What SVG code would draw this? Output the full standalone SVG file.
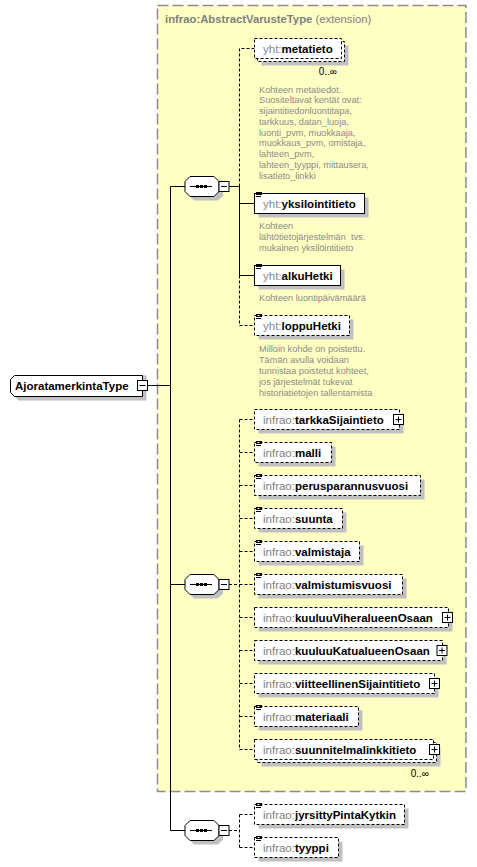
<svg xmlns="http://www.w3.org/2000/svg" xmlns:xlink="http://www.w3.org/1999/xlink" width="477" height="867" viewBox="0 0 477 867">
<style>
.bg{fill:#ffffc4;stroke:#8c8c8c;stroke-width:1.5;stroke-dasharray:11,4}
.box{fill:#fff;stroke:#000;stroke-width:1}
.opt{stroke-dasharray:3,2}
.sh{fill:#c0c0c0}
.ln{stroke:#000;stroke-width:1;fill:none}
.dl{stroke-dasharray:3,2}
.nm{font-family:"Liberation Sans",Arial,sans-serif;font-size:11.5px;font-weight:bold;fill:#000}
.px{font-weight:normal;fill:#808080}
.ypx{font-weight:normal;fill:#7f8a9c}
.ds{font-family:"Liberation Sans",Arial,sans-serif;font-size:9.2px;fill:#8a8a8a}
.oc{font-family:"Liberation Sans","DejaVu Sans",sans-serif;font-size:10px;fill:#000}
.tt{font-family:"Liberation Sans",Arial,sans-serif;font-size:11.3px;fill:#808080}
</style>
<defs>
<g id="ic"><path d="M0,0.5h6M0,2.5h6M0,4.5h5" stroke="#000" stroke-width="1" fill="none"/></g>
<g id="plus"><rect x="-5" y="-5" width="10" height="10" fill="#fff" stroke="#000"/><path d="M-3,0h6M0,-3v6" stroke="#000"/></g>
<g id="minus"><rect x="-5" y="-5" width="10" height="10" fill="#fff" stroke="#000"/><path d="M-3,0h6" stroke="#000"/></g>
<g id="seq">
<path d="M4,-6 L9,-11 H33 L38,-6 V4 L33,9 H9 L4,4 Z" fill="#c0c0c0" transform="translate(0,5)"/>
<path d="M0,-5 L5,-10 H29 L34,-5 V5 L29,10 H5 L0,5 Z" fill="#fff" stroke="#000"/>
<path d="M5,0 H27" stroke="#000"/>
<rect x="11" y="-1.5" width="3" height="3" fill="#000"/>
<rect x="15" y="-1.5" width="3" height="3" fill="#000"/>
<rect x="19" y="-1.5" width="3" height="3" fill="#000"/>
<use href="#minus" x="39" y="0"/>
</g>
</defs>

<rect class="bg" x="157.5" y="5.5" width="308.5" height="786"/>
<text class="tt" x="165" y="23"><tspan font-weight="bold">infrao:AbstractVarusteType</tspan> (extension)</text>

<g id="connectors">
<path class="ln" d="M147.5,385.5 H170.5 M170.5,186.5 V830.5 M170.5,186.5 H185 M170.5,584.5 H185 M170.5,830.5 H185"/>
<path class="ln" d="M229,186.5 H239.5 M239.5,186.5 V275.5 M239.5,203.5 H254.5 M239.5,275.5 H254.5"/>
<path class="ln dl" d="M239.5,186.5 V48.5 H254.5 M239.5,275.5 V325.5 H254.5"/>
<path class="ln dl" d="M229,584.5 H239.5 M239.5,419.5 V749.5 M239.5,419.5 H254.5 M239.5,452.5 H254.5 M239.5,485.5 H254.5 M239.5,518.5 H254.5 M239.5,551.5 H254.5 M239.5,584.5 H254.5 M239.5,617.5 H254.5 M239.5,650.5 H254.5 M239.5,683.5 H254.5 M239.5,716.5 H254.5 M239.5,749.5 H254.5"/>
<path class="ln dl" d="M229,830.5 H239.5 M239.5,814.5 V847.5 M239.5,814.5 H254.5 M239.5,847.5 H254.5"/>
</g>

<g id="root">
<path d="M14.5,379.5 L18.5,375.5 H146.5 V400.5 H18.5 L14.5,396.5 Z" class="sh"/>
<path d="M10.5,379.5 L14.5,375.5 H142.5 V396.5 H14.5 L10.5,392.5 Z" class="box"/>
<text class="nm" x="15" y="390">AjoratamerkintaType</text>
<use href="#minus" x="142.5" y="385.5"/>
</g>

<g id="seq1"><use href="#seq" x="185" y="186.5"/></g>
<g id="seq2"><use href="#seq" x="185" y="584.5"/></g>
<g id="seq3"><use href="#seq" x="185" y="830.5"/></g>

<g id="e-metatieto">
<rect class="sh" x="261.5" y="45.5" width="87" height="20"/>
<rect class="box opt" x="257.5" y="41.5" width="87" height="20"/>
<rect class="box opt" x="254.5" y="38.5" width="87" height="20"/>
<text class="nm" x="263" y="52.5"><tspan class="ypx">yht:</tspan>metatieto</text>
<text class="oc" x="337" y="75" text-anchor="end">0..∞</text>
<text class="ds" x="259" y="92.5">Kohteen metatiedot.</text>
<text class="ds" x="259" y="103.3">Suositeltavat kentät ovat:</text>
<text class="ds" x="259" y="114">sijaintitiedonluontitapa,</text>
<text class="ds" x="259" y="124.8">tarkkuus, datan_luoja,</text>
<text class="ds" x="259" y="135.6">luonti_pvm, muokkaaja,</text>
<text class="ds" x="259" y="146.4">muokkaus_pvm, omistaja,</text>
<text class="ds" x="259" y="157.2">lahteen_pvm,</text>
<text class="ds" x="259" y="168">lahteen_tyyppi, mittausera,</text>
<text class="ds" x="259" y="178.7">lisatieto_linkki</text>
</g>

<g id="e-yksilointitieto">
<rect class="sh" x="258.5" y="197.5" width="110" height="20"/>
<rect class="box" x="254.5" y="193.5" width="110" height="20"/>
<use href="#ic" x="256" y="192"/>
<text class="nm" x="263" y="207.5"><tspan class="ypx">yht:</tspan>yksilointitieto</text>
<text class="ds" x="259" y="229.3">Kohteen</text>
<text class="ds" x="259" y="240" xml:space="preserve">lähtötietojärjestelmän  tvs.</text>
<text class="ds" x="259" y="250.6">mukainen yksilöintitieto</text>
</g>

<g id="e-alkuHetki">
<rect class="sh" x="258.5" y="269.5" width="86" height="20"/>
<rect class="box" x="254.5" y="265.5" width="86" height="20"/>
<use href="#ic" x="256" y="264"/>
<text class="nm" x="263" y="279.5"><tspan class="ypx">yht:</tspan>alkuHetki</text>
<text class="ds" x="259" y="300.6">Kohteen luontipäivämäärä</text>
</g>

<g id="e-loppuHetki">
<rect class="sh" x="258.5" y="319.5" width="95" height="20"/>
<rect class="box opt" x="254.5" y="315.5" width="95" height="20"/>
<use href="#ic" x="256" y="314"/>
<text class="nm" x="263" y="329.5"><tspan class="ypx">yht:</tspan>loppuHetki</text>
<text class="ds" x="259" y="351.6">Milloin kohde on poistettu.</text>
<text class="ds" x="259" y="362.6">Tämän avulla voidaan</text>
<text class="ds" x="259" y="373.6">tunnistaa poistetut kohteet,</text>
<text class="ds" x="259" y="384.6">jos järjestelmät tukevat</text>
<text class="ds" x="259" y="395.6">historiatietojen tallentamista</text>
</g>

<g id="e-tarkkaSijaintieto">
<rect class="sh" x="258.5" y="413.5" width="145" height="20"/>
<rect class="box opt" x="254.5" y="409.5" width="145" height="20"/>
<text class="nm" x="263" y="423.5"><tspan class="px">infrao:</tspan>tarkkaSijaintieto</text>
<use href="#plus" x="398.5" y="419.5"/>
</g>

<g id="e-malli">
<rect class="sh" x="258.5" y="446.5" width="77" height="20"/>
<rect class="box opt" x="254.5" y="442.5" width="77" height="20"/>
<use href="#ic" x="256" y="441"/>
<text class="nm" x="263" y="456.5"><tspan class="px">infrao:</tspan>malli</text>
</g>

<g id="e-perusparannusvuosi">
<rect class="sh" x="258.5" y="479.5" width="166" height="20"/>
<rect class="box opt" x="254.5" y="475.5" width="166" height="20"/>
<use href="#ic" x="256" y="474"/>
<text class="nm" x="263" y="489.5"><tspan class="px">infrao:</tspan>perusparannusvuosi</text>
</g>

<g id="e-suunta">
<rect class="sh" x="258.5" y="512.5" width="88" height="20"/>
<rect class="box opt" x="254.5" y="508.5" width="88" height="20"/>
<use href="#ic" x="256" y="507"/>
<text class="nm" x="263" y="522.5"><tspan class="px">infrao:</tspan>suunta</text>
</g>

<g id="e-valmistaja">
<rect class="sh" x="258.5" y="545.5" width="105" height="20"/>
<rect class="box opt" x="254.5" y="541.5" width="105" height="20"/>
<use href="#ic" x="256" y="540"/>
<text class="nm" x="263" y="555.5"><tspan class="px">infrao:</tspan>valmistaja</text>
</g>

<g id="e-valmistumisvuosi">
<rect class="sh" x="258.5" y="578.5" width="148" height="20"/>
<rect class="box opt" x="254.5" y="574.5" width="148" height="20"/>
<use href="#ic" x="256" y="573"/>
<text class="nm" x="263" y="588.5"><tspan class="px">infrao:</tspan>valmistumisvuosi</text>
</g>

<g id="e-kuuluuViheralueenOsaan">
<rect class="sh" x="258.5" y="611.5" width="194" height="20"/>
<rect class="box opt" x="254.5" y="607.5" width="194" height="20"/>
<text class="nm" x="263" y="621.5"><tspan class="px">infrao:</tspan>kuuluuViheralueenOsaan</text>
<use href="#plus" x="447.5" y="617.5"/>
</g>

<g id="e-kuuluuKatualueenOsaan">
<rect class="sh" x="258.5" y="644.5" width="188" height="20"/>
<rect class="box opt" x="254.5" y="640.5" width="188" height="20"/>
<text class="nm" x="263" y="654.5"><tspan class="px">infrao:</tspan>kuuluuKatualueenOsaan</text>
<use href="#plus" x="442" y="650.5"/>
</g>

<g id="e-viitteellinenSijaintitieto">
<rect class="sh" x="258.5" y="677.5" width="180" height="20"/>
<rect class="box opt" x="254.5" y="673.5" width="180" height="20"/>
<text class="nm" x="263" y="687.5"><tspan class="px">infrao:</tspan>viitteellinenSijaintitieto</text>
<use href="#plus" x="434.5" y="683.5"/>
</g>

<g id="e-materiaali">
<rect class="sh" x="258.5" y="710.5" width="104" height="20"/>
<rect class="box opt" x="254.5" y="706.5" width="104" height="20"/>
<use href="#ic" x="256" y="705"/>
<text class="nm" x="263" y="720.5"><tspan class="px">infrao:</tspan>materiaali</text>
</g>

<g id="e-suunnitelmalinkkitieto">
<rect class="sh" x="261.5" y="746.5" width="179" height="20"/>
<rect class="box opt" x="257.5" y="742.5" width="179" height="20"/>
<rect class="box opt" x="254.5" y="739.5" width="179" height="20"/>
<text class="nm" x="263" y="753.5"><tspan class="px">infrao:</tspan>suunnitelmalinkkitieto</text>
<use href="#plus" x="434.5" y="749.5"/>
<text class="oc" x="429" y="777" text-anchor="end">0..∞</text>
</g>

<g id="e-jyrsittyPintaKytkin">
<rect class="sh" x="258.5" y="808.5" width="150" height="20"/>
<rect class="box opt" x="254.5" y="804.5" width="150" height="20"/>
<use href="#ic" x="256" y="803"/>
<text class="nm" x="263" y="818.5"><tspan class="px">infrao:</tspan>jyrsittyPintaKytkin</text>
</g>

<g id="e-tyyppi">
<rect class="sh" x="258.5" y="841.5" width="84" height="20"/>
<rect class="box opt" x="254.5" y="837.5" width="84" height="20"/>
<use href="#ic" x="256" y="836"/>
<text class="nm" x="263" y="851.5"><tspan class="px">infrao:</tspan>tyyppi</text>
</g>
</svg>
